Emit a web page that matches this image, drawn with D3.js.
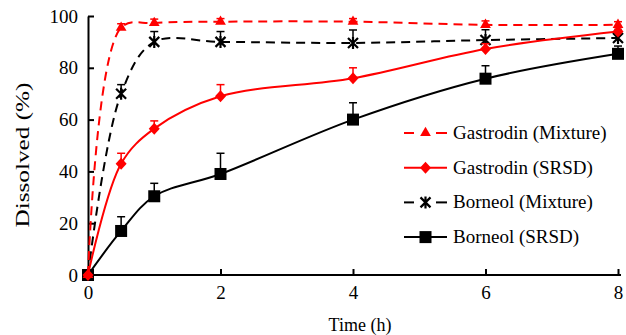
<!DOCTYPE html>
<html>
<head>
<meta charset="utf-8">
<script src="https://cdn.jsdelivr.net/npm/d3@7"></script>
<style>
  body { margin: 0; background: #fff; }
</style>
</head>
<body>
<svg width="626" height="335"></svg>
<script>
// time points (h)
var times = [0, 0.5, 1, 2, 4, 6, 8]

// dissolved % for each series, plus the upper error bar size
var gastrodinMix = [0, 95.5, 97.3, 97.8, 97.8, 96.6, 96.6]
var gastrodinMixErr = [0, 1.5, 1.5, 1.2, 1.2, 1.5, 1.2]
var gastrodinSrsd = [0, 43, 56.5, 69, 76, 87.3, 94]
var gastrodinSrsdErr = [0, 4, 3, 4.5, 4, 2, 1.5]
var borneolMix = [0, 70, 90, 90, 89.6, 90.7, 91.5]
var borneolMixErr = [0, 3.5, 4, 4, 5, 4, 3]
var borneolSrsd = [0, 17, 30.4, 39, 60, 75.8, 85.4]
var borneolSrsdErr = [0, 5.5, 5, 8, 6.5, 5, 3]

var xTicks = [0, 2, 4, 6, 8]
var yTicks = [0, 20, 40, 60, 80, 100]

var series = [
    {name: "Gastrodin (Mixture)", values: gastrodinMix, err: gastrodinMixErr, color: "#ff0000", dash: true, marker: "triangle"},
    {name: "Gastrodin (SRSD)", values: gastrodinSrsd, err: gastrodinSrsdErr, color: "#ff0000", dash: false, marker: "diamond"},
    {name: "Borneol (Mixture)", values: borneolMix, err: borneolMixErr, color: "#000000", dash: true, marker: "star"},
    {name: "Borneol (SRSD)", values: borneolSrsd, err: borneolSrsdErr, color: "#000000", dash: false, marker: "square"}
]

var serif = "'Liberation Serif', 'Times New Roman', 'DejaVu Serif', serif"

var svg = d3.select("svg")

var x = d3.scaleLinear().domain([0, 8]).range([88, 618])
var y = d3.scaleLinear().domain([0, 100]).range([275, 16])

// axes, ticks point inward
var xAxis = svg.append("g")
    .attr("transform", "translate(0," + y(0) + ")")
    .call(d3.axisBottom(x).tickValues(xTicks).tickSizeInner(-6).tickSizeOuter(0).tickPadding(11))
xAxis.attr("font-family", serif).attr("font-size", 19)
xAxis.select(".domain").attr("stroke-width", 2).attr("d", "M" + x(0) + ",0H" + (x(8) + 3))
xAxis.selectAll(".tick line").attr("stroke-width", 2)
xAxis.selectAll("text").attr("fill", "#000")

var yAxis = svg.append("g")
    .attr("transform", "translate(" + x(0) + ",0)")
    .call(d3.axisLeft(y).tickValues(yTicks).tickSizeInner(-6).tickSizeOuter(0).tickPadding(10))
yAxis.attr("font-family", serif).attr("font-size", 19)
yAxis.select(".domain").attr("stroke-width", 2)
yAxis.selectAll(".tick line").attr("stroke-width", 2)
yAxis.selectAll("text").attr("fill", "#000")

svg.append("text")
    .attr("transform", "translate(29,155) rotate(-90)")
    .attr("text-anchor", "middle")
    .attr("font-family", serif)
    .attr("font-size", 19)
    .attr("textLength", 145)
    .attr("lengthAdjust", "spacingAndGlyphs")
    .text("Dissolved (%)")

svg.append("text")
    .attr("x", 360).attr("y", 331)
    .attr("text-anchor", "middle")
    .attr("font-family", serif)
    .attr("font-size", 18)
    .text("Time (h)")

var line = d3.line()
    .x(d => x(d[0]))
    .y(d => y(d[1]))
    .curve(d3.curveCatmullRom.alpha(0.5))

function drawMarker(g, type, color) {
    if (type == "triangle") {
        g.append("path").attr("d", d3.symbol(d3.symbolTriangle, 50)()).attr("fill", color)
    } else if (type == "diamond") {
        g.append("path").attr("d", "M0,-6L5.5,0L0,6L-5.5,0Z").attr("fill", color)
    } else if (type == "square") {
        g.append("rect").attr("x", -6).attr("y", -6).attr("width", 12).attr("height", 12).attr("fill", color)
    } else {
        g.append("path").attr("d", "M-5,-5L5,5M-5,5L5,-5M0,-6L0,6")
            .attr("stroke", color).attr("stroke-width", 2.2).attr("fill", "none")
    }
}

// plot series (draw in reverse so gastrodin sits on top)
series.slice().reverse().forEach(s => {
    var pts = times.map((t, i) => [t, s.values[i]])
    var g = svg.append("g")

    // error bars (upper only)
    times.forEach((t, i) => {
        if (s.err[i] > 0) {
            g.append("line")
                .attr("x1", x(t)).attr("x2", x(t))
                .attr("y1", y(s.values[i])).attr("y2", y(s.values[i] + s.err[i]))
                .attr("stroke", s.color).attr("stroke-width", 1.5)
            g.append("line")
                .attr("x1", x(t) - 4).attr("x2", x(t) + 4)
                .attr("y1", y(s.values[i] + s.err[i])).attr("y2", y(s.values[i] + s.err[i]))
                .attr("stroke", s.color).attr("stroke-width", 1.5)
        }
    })

    g.append("path")
        .attr("d", line(pts))
        .attr("fill", "none")
        .attr("stroke", s.color)
        .attr("stroke-width", 2)
        .attr("stroke-dasharray", s.dash ? "9,6" : null)

    pts.forEach(p => {
        var m = g.append("g").attr("transform", "translate(" + x(p[0]) + "," + y(p[1]) + ")")
        drawMarker(m, s.marker, s.color)
    })
})

// legend
var legend = svg.append("g")
series.forEach((s, i) => {
    var ly = 133 + i * 34.7
    var lg = legend.append("g").attr("transform", "translate(0," + ly + ")")
    if (s.dash) {
        lg.append("line").attr("x1", 404).attr("x2", 414).attr("y1", 0).attr("y2", 0)
            .attr("stroke", s.color).attr("stroke-width", 2)
        lg.append("line").attr("x1", 436).attr("x2", 447).attr("y1", 0).attr("y2", 0)
            .attr("stroke", s.color).attr("stroke-width", 2)
    } else {
        lg.append("line").attr("x1", 404).attr("x2", 447).attr("y1", 0).attr("y2", 0)
            .attr("stroke", s.color).attr("stroke-width", 2)
    }
    var m = lg.append("g").attr("transform", "translate(425.5,0)")
    drawMarker(m, s.marker, s.color)
    lg.append("text")
        .attr("x", 453).attr("y", 6)
        .attr("font-family", serif)
        .attr("font-size", 19)
        .text(s.name)
})
</script>
</body>
</html>
